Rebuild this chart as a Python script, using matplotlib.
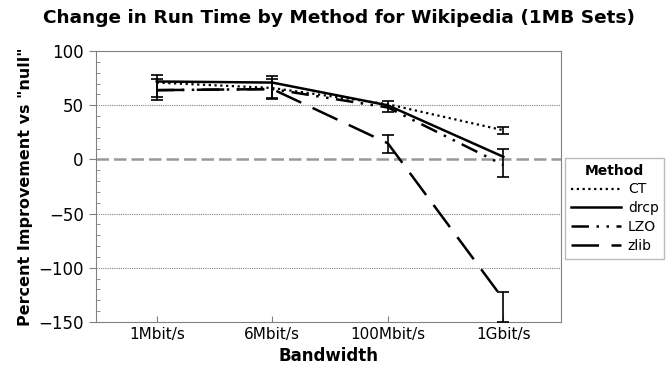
import matplotlib
matplotlib.use("Agg")
import matplotlib.pyplot as plt
from matplotlib.ticker import MultipleLocator

bandwidths = ["1Mbit/s", "6Mbit/s", "100Mbit/s", "1Gbit/s"]

ct = [71, 66, 51, 27]
ct_lo = [None, None, None, 23.5]
ct_hi = [None, None, None, 30]

drcp = [72, 71, 50, 2.5]
drcp_lo = [58, 57, None, None]
drcp_hi = [78, 77, None, None]

lzo = [64, 65, 48, -5]
lzo_lo = [55, 56, 44, -16]
lzo_hi = [74, 74, 54, 9.5]

zlib = [64, 65, 15, -129]
zlib_lo = [None, None, 6, -150]
zlib_hi = [None, None, 23, -122]

series = [
    ("CT", ct, ct_lo, ct_hi, (0, (1, 1.6)), 1.6),
    ("drcp", drcp, drcp_lo, drcp_hi, "-", 1.8),
    ("LZO", lzo, lzo_lo, lzo_hi, (0, (7, 3, 1, 3, 1, 3)), 1.8),
    ("zlib", zlib, zlib_lo, zlib_hi, (0, (11, 5)), 1.8),
]

fig = plt.figure(figsize=(6.68, 3.68), dpi=100)
ax = fig.add_axes([0.143, 0.125, 0.697, 0.736])

x = list(range(len(bandwidths)))

# lignes de grille et ligne du zero
for yv in [50, -50, -100]:
    ax.axhline(yv, color="grey", linestyle=(0, (1, 1)), linewidth=0.8, zorder=0)
ax.axhline(0, color="#999999", linestyle=(0, (5, 2)), linewidth=1.8, zorder=0)

for name, vals, lo, hi, ls, lw in series:
    ax.plot(x, vals, color="black", linestyle=ls, linewidth=lw, label=name, zorder=3)
    for i in range(len(vals)):
        if lo[i] is None:
            continue
        ax.errorbar(x[i], vals[i],
                    yerr=[[vals[i] - lo[i]], [hi[i] - vals[i]]],
                    fmt="none", ecolor="black", elinewidth=1.2,
                    capsize=4, capthick=1.2, zorder=4)

ax.set_xlim(-0.53, 3.5)
ax.set_ylim(-150, 100)
ax.set_xticks(x)
ax.set_xticklabels(bandwidths, fontsize=11)
ax.yaxis.set_major_locator(MultipleLocator(50))
ax.yaxis.set_minor_locator(MultipleLocator(10))
ax.tick_params(axis="y", which="major", direction="out", length=5, color="grey", labelsize=12)
ax.tick_params(axis="y", which="minor", direction="in", length=3, color="grey")
ax.tick_params(axis="x", direction="in", length=4, color="grey")

for side in ["left", "right", "bottom"]:
    ax.spines[side].set_color("grey")
ax.spines["top"].set_color("grey")
ax.spines["top"].set_linestyle((0, (1, 1)))

ax.set_xlabel("Bandwidth", fontsize=12, fontweight="bold")
ax.set_ylabel('Percent Improvement vs "null"', fontsize=11.5, fontweight="bold")
fig.suptitle("Change in Run Time by Method for Wikipedia (1MB Sets)",
             fontsize=13.3, fontweight="bold", x=0.508, y=0.975)

leg = ax.legend(title="Method", loc="center left", bbox_to_anchor=(1.0, 0.42),
                frameon=True, fancybox=False, edgecolor="#aaaaaa",
                fontsize=10, handlelength=3.6, handletextpad=0.5,
                borderaxespad=0.3, labelspacing=0.35)
leg.get_title().set_fontweight("bold")
leg.get_title().set_fontsize(10)

fig.savefig("out.png", dpi=100)
